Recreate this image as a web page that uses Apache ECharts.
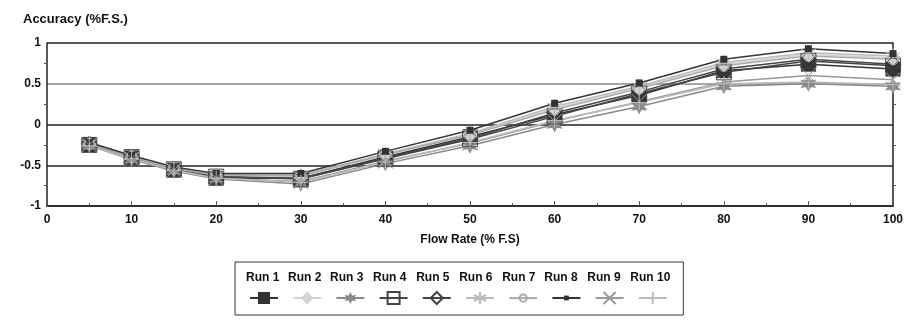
<!DOCTYPE html>
<html>
<head>
<meta charset="utf-8">
<script src="https://cdn.jsdelivr.net/npm/echarts@6/dist/echarts.min.js"></script>
<style>
  html, body { margin: 0; padding: 0; background: #fff; }
  #chart { width: 916px; height: 328px; }
</style>
</head>
<body>
<div id="chart"></div>
<script>
"use strict";
// flow rate (% F.S.)
var flowRate = [5, 10, 15, 20, 30, 40, 50, 60, 70, 80, 90, 100];

var run1  = [-0.25, -0.41, -0.56, -0.66, -0.66, -0.40, -0.15, 0.12, 0.36, 0.66, 0.74, 0.68];
var run2  = [-0.24, -0.40, -0.54, -0.63, -0.64, -0.37, -0.12, 0.20, 0.45, 0.74, 0.86, 0.82];
var run3  = [-0.26, -0.43, -0.57, -0.67, -0.73, -0.48, -0.26, 0.00, 0.22, 0.47, 0.50, 0.47];
var run4  = [-0.25, -0.40, -0.55, -0.64, -0.67, -0.42, -0.18, 0.10, 0.38, 0.64, 0.78, 0.72];
var run5  = [-0.24, -0.41, -0.55, -0.64, -0.66, -0.41, -0.17, 0.14, 0.40, 0.68, 0.80, 0.74];
var run6  = [-0.23, -0.39, -0.53, -0.62, -0.62, -0.36, -0.11, 0.22, 0.47, 0.76, 0.88, 0.84];
var run7  = [-0.24, -0.40, -0.54, -0.62, -0.63, -0.37, -0.13, 0.18, 0.44, 0.72, 0.84, 0.80];
var run8  = [-0.22, -0.38, -0.52, -0.60, -0.60, -0.33, -0.07, 0.26, 0.51, 0.80, 0.93, 0.87];
var run9  = [-0.25, -0.42, -0.56, -0.66, -0.70, -0.45, -0.23, 0.04, 0.28, 0.52, 0.60, 0.55];
var run10 = [-0.26, -0.42, -0.56, -0.66, -0.71, -0.46, -0.22, 0.05, 0.27, 0.50, 0.52, 0.49];

var runNames = ['Run 1', 'Run 2', 'Run 3', 'Run 4', 'Run 5', 'Run 6', 'Run 7', 'Run 8', 'Run 9', 'Run 10'];
var runData = [run1, run2, run3, run4, run5, run6, run7, run8, run9, run10];

var yTicks = [-1, -0.5, 0, 0.5, 1];

// marker shapes
var starPath = 'path://M0,-10L2.5,-4.3L8.7,-5L5,0L8.7,5L2.5,4.3L0,10L-2.5,4.3L-8.7,5L-5,0L-8.7,-5L-2.5,-4.3Z';
var asteriskPath = 'path://M0,-10L0,10M-8.7,-5L8.7,5M-8.7,5L8.7,-5';
var crossPath = 'path://M-10,-10L10,10M-10,10L10,-10';
var plusPath = 'path://M0,-10L0,10M-10,0L10,0';
var hollow = 'rgba(0,0,0,0)';

// symbol, size in plot, size in legend
var styles = [
    {symbol: 'rect',       size: 15, leg: 15, color: '#333', fill: '#333', border: 0},
    {symbol: 'diamond',    size: 16, leg: 16, color: '#d4d4d4', fill: '#d4d4d4', border: 0},
    {symbol: starPath,     size: 16, leg: 15, color: '#8a8a8a', fill: '#8a8a8a', border: 0},
    {symbol: 'rect',       size: 15, leg: 15, color: '#444', fill: hollow, border: 1},
    {symbol: 'diamond',    size: 16, leg: 15, color: '#444', fill: hollow, border: 1},
    {symbol: asteriskPath, size: 15, leg: 15, color: '#bbb', fill: '#bbb', border: 1},
    {symbol: 'circle',     size: 11, leg: 9,  color: '#aaa', fill: hollow, border: 1},
    {symbol: 'rect',       size: 7,  leg: 6,  color: '#333', fill: '#333', border: 0},
    {symbol: crossPath,    size: 15, leg: 15, color: '#999', fill: '#999', border: 1},
    {symbol: plusPath,     size: 15, leg: 15, color: '#bbb', fill: '#bbb', border: 1}
];

var series = runNames.map(function(name, i) {
    var st = styles[i];
    return {
        name: name,
        type: 'line',
        data: flowRate.map(function(x, j) { return [x, runData[i][j]]; }),
        symbol: st.symbol,
        symbolSize: st.size,
        showAllSymbol: true,
        color: st.color,
        lineStyle: {color: st.color, width: 1.5},
        itemStyle: {color: st.fill, borderColor: st.color, borderWidth: st.border},
        animation: false
    };
});

var labelFont = {color: '#111', fontSize: 12, fontWeight: 'bold', fontFamily: 'Liberation Sans'};

// text row of the legend (with the frame), then one icon legend per run
var legends = [{
    data: runNames,
    left: 235,
    top: 262,
    orient: 'horizontal',
    itemWidth: 0,
    itemHeight: 0,
    icon: 'rect',
    itemGap: 3.7,
    padding: [10, 13, 31, 6],
    borderColor: '#333',
    borderWidth: 1,
    textStyle: labelFont
}];
runNames.forEach(function(name, i) {
    var h = styles[i].leg;
    legends.push({
        data: [name],
        left: 249 + i * 43.2,
        top: 298 - h / 2,
        itemWidth: 28,
        itemHeight: h,
        padding: 0,
        formatter: function() { return ''; },
        textStyle: {fontSize: 1}
    });
});

var myChart = echarts.init(document.getElementById('chart'));

var option = {
    backgroundColor: '#fff',
    title: {
        text: 'Accuracy (%F.S.)',
        left: 18,
        top: 8,
        textStyle: {color: '#111', fontSize: 13, fontWeight: 'bold', fontFamily: 'Liberation Sans'}
    },
    grid: {left: 47, right: 23, top: 43, bottom: 122},
    legend: legends,
    xAxis: {
        type: 'value',
        min: 0,
        max: 100,
        interval: 10,
        name: 'Flow Rate (% F.S)',
        nameLocation: 'middle',
        nameGap: 28,
        nameTextStyle: labelFont,
        axisLine: {show: true, onZero: false, lineStyle: {color: '#222', width: 1.5}},
        axisTick: {show: true, inside: true, length: 5, lineStyle: {color: '#555'}},
        minorTick: {show: true, splitNumber: 2, length: 3, lineStyle: {color: '#555'}},
        axisLabel: labelFont,
        splitLine: {show: false}
    },
    yAxis: [
        {
            type: 'value',
            min: -1,
            max: 1,
            interval: 0.5,
            axisLine: {show: true, lineStyle: {color: '#222', width: 1.5}},
            axisTick: {show: false},
            minorTick: {show: true, splitNumber: 2, length: 3, lineStyle: {color: '#555'}},
            axisLabel: {
                color: '#111', fontSize: 12, fontWeight: 'bold', fontFamily: 'Liberation Sans', margin: 6,
                formatter: function(v) { return yTicks.indexOf(v) >= 0 ? String(v) : ''; }
            },
            splitLine: {show: true, lineStyle: {color: ['#222', '#222', '#222', '#888', '#222'], width: 1.5}}
        },
        {
            type: 'value',
            position: 'right',
            min: -1,
            max: 1,
            interval: 0.5,
            axisLine: {show: true, lineStyle: {color: '#222', width: 1.5}},
            axisTick: {show: false},
            minorTick: {show: true, splitNumber: 2, length: 3, lineStyle: {color: '#555'}},
            axisLabel: {show: false},
            splitLine: {show: false}
        }
    ],
    series: series
};

myChart.setOption(option);
</script>
</body>
</html>
